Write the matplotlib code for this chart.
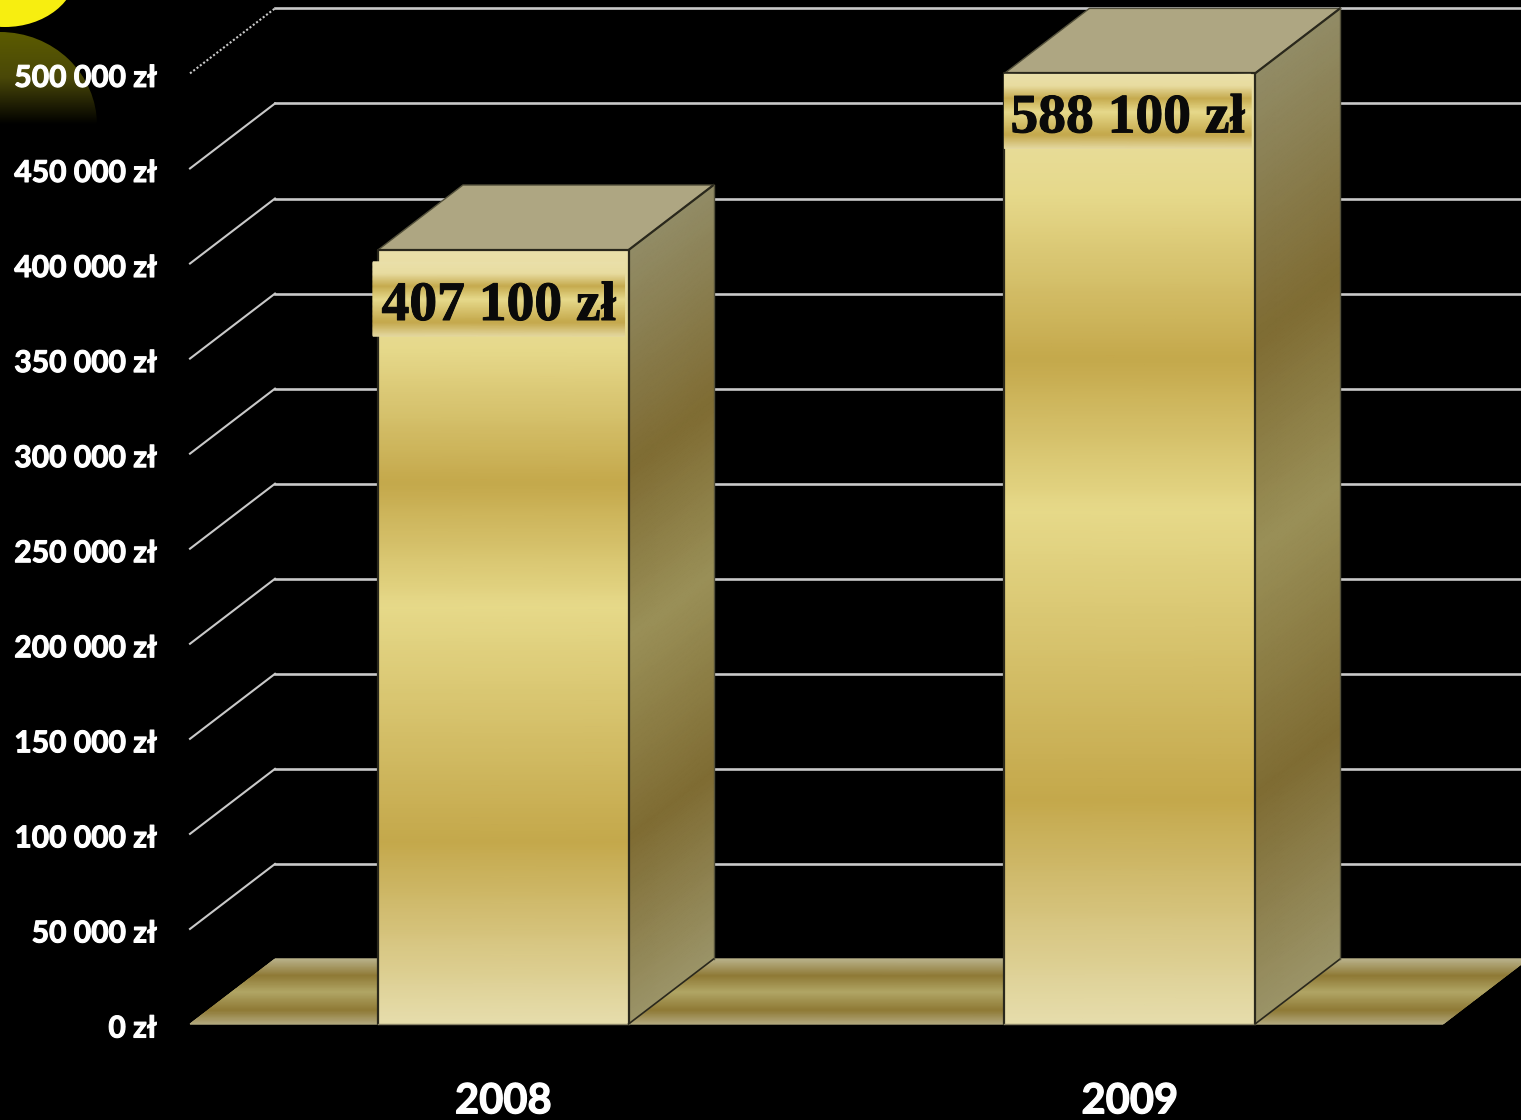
import numpy as np
import matplotlib
matplotlib.use("Agg")
import matplotlib.pyplot as plt
import matplotlib.patheffects as pe
from matplotlib.colors import LinearSegmentedColormap
from matplotlib.patches import Ellipse, Polygon
from matplotlib.transforms import ScaledTranslation

years = ["2008", "2009"]
values = [407100, 588100]
label_texts = ["407 100 zł", "588 100 zł"]
y_ticks = [0, 50000, 100000, 150000, 200000, 250000, 300000, 350000, 400000, 450000, 500000]

# layout, in pixels of the 1521x1120 picture
W, H = 1521, 1120
LEFT, RIGHT, BOTTOM, TOP = 190, 1443, 1024, 73.4
Y_MAX = 500000
BAR_WIDTH = 0.4
DEPTH_X = 85 / 626.5
DEPTH_Y = 65 / (BOTTOM - TOP) * Y_MAX
PX_Y = Y_MAX / (BOTTOM - TOP)
PX_X = 2 / (RIGHT - LEFT)
label_drop = [12, 1]
label_shift = [-5, 0]

front_cmap = LinearSegmentedColormap.from_list("front", [
    (0.0, "#e6ddac"), (0.235, "#c4a84b"), (0.54, "#e6d989"),
    (0.70, "#c4a84b"), (0.875, "#e6d98b"), (1.0, "#e9dfa9")])
side_cmap = LinearSegmentedColormap.from_list("side", [
    (0.0, "#9b9468"), (0.24, "#7f6c33"), (0.5, "#9a9058"),
    (0.72, "#7f6c33"), (1.0, "#928c66")])
floor_cmap = LinearSegmentedColormap.from_list("floor", [
    (0.0, "#b3aa80"), (0.22, "#8f7a36"), (0.5, "#b1a666"),
    (0.75, "#8f7a36"), (1.0, "#b8b088")])
label_cmap = LinearSegmentedColormap.from_list("label", [
    (0.0, "#e4d8a0"), (0.19, "#c4a84b"), (0.5, "#e7da8c"),
    (0.68, "#c6ab4f"), (0.85, "#e8dca0"), (1.0, "#e9dfa9")])


def mesh(ax, x, y, c, cmap, z):
    ax.pcolormesh(x, y, c, cmap=cmap, vmin=0, vmax=1, shading="gouraud",
                  zorder=z, clip_on=False, rasterized=True)


fig = plt.figure(figsize=(W / 100, H / 100), dpi=100, facecolor="black")

# background decoration top left
bg = fig.add_axes([0, 0, 1, 1], zorder=0)
bg.axis("off")
dome = Ellipse((0, 125), 194, 186, transform=bg.transData, fc="none", ec="none")
bg.add_patch(dome)
dome_cmap = LinearSegmentedColormap.from_list("dome", ["#5c5c00", "#4a4808", "#000000"])
img = bg.imshow(np.linspace(0, 1, 100).reshape(-1, 1), cmap=dome_cmap,
                extent=[0, 100, 125, 30], aspect="auto")
img.set_clip_path(dome)
bg.set_xlim(0, W)
bg.set_ylim(H, 0)
bg.add_patch(Ellipse((5, -30), 144, 114, fc="#f7ee10", ec="none"))

ax = fig.add_axes([LEFT / W, (H - BOTTOM) / H, (RIGHT - LEFT) / W, (BOTTOM - TOP) / H], zorder=1)
ax.patch.set_alpha(0)
for s in ax.spines.values():
    s.set_visible(False)

# gridlines with the slanted part on the side wall, the top slant is dotted
for v in y_ticks[1:]:
    ax.plot([DEPTH_X, 2 + DEPTH_X], [v + DEPTH_Y, v + DEPTH_Y], color="#c9c9c9",
            lw=1.9, zorder=1, clip_on=False)
    ax.plot([0, DEPTH_X], [v, v + DEPTH_Y], color="#c9c9c9", lw=1.5, zorder=1, clip_on=False,
            ls=(0, (1, 1)) if v == Y_MAX else "-")

# floor
vv = np.linspace(0, 1, 120)
fx = np.array([[0 + DEPTH_X * t, 2 + DEPTH_X * t] for t in vv])
fy = np.array([[DEPTH_Y * t, DEPTH_Y * t] for t in vv])
mesh(ax, fx, fy, np.column_stack([vv, vv]), floor_cmap, 2)

positions = [0.5, 1.5]
for i, (pos, val) in enumerate(zip(positions, values)):
    h = min(val, Y_MAX)  # axis stops at 500 000, taller bars are cut there
    x0 = pos - BAR_WIDTH / 2
    x1 = pos + BAR_WIDTH / 2
    z = 3 + i

    # right side
    sx = np.array([[x1, x1 + DEPTH_X]] * len(vv))
    sy = np.array([[t * h, t * h + DEPTH_Y] for t in vv])
    mesh(ax, sx, sy, np.column_stack([vv, vv]), side_cmap, z)

    # top
    ax.add_patch(Polygon([(x0, h), (x1, h), (x1 + DEPTH_X, h + DEPTH_Y), (x0 + DEPTH_X, h + DEPTH_Y)],
                         fc="#aea682", ec="#55523c", lw=1, zorder=z, clip_on=False))

    # front
    ffx = np.array([[x0, x1]] * len(vv))
    ffy = np.array([[t * h, t * h] for t in vv])
    mesh(ax, ffx, ffy, np.column_stack([vv, vv]), front_cmap, z + 0.1)

    ax.plot([x0, x0, x1, x1], [0, h, h, 0], color="#2a281c", lw=1.6, zorder=z + 0.2, clip_on=False)
    ax.plot([x0, x1], [0, 0], color="#8a8468", lw=1, zorder=z + 0.2, clip_on=False)
    ax.plot([x1, x1 + DEPTH_X], [h, h + DEPTH_Y], color="#2a281c", lw=1.6, zorder=z + 0.2, clip_on=False)
    ax.plot([x1, x1 + DEPTH_X], [0, DEPTH_Y], color="#2a281c", lw=1.2, zorder=z + 0.2, clip_on=False)
    ax.plot([x1 + DEPTH_X] * 2, [DEPTH_Y, h + DEPTH_Y], color="#55523c", lw=1, zorder=z + 0.2, clip_on=False)

    # value label on its own gradient strip
    ltop = h - label_drop[i] * PX_Y
    lbot = ltop - 74 * PX_Y
    lx0 = x0 + label_shift[i] * PX_X
    lx1 = x1 - 4 * PX_X
    lv = np.linspace(0, 1, 60)
    mesh(ax, np.array([[lx0, lx1]] * len(lv)), np.array([[lbot + t * (ltop - lbot)] * 2 for t in lv]),
         np.column_stack([lv, lv]), label_cmap, z + 0.3)
    ax.text((lx0 + lx1) / 2, (ltop + lbot) / 2 - 7 * PX_Y, label_texts[i], ha="center", va="center",
            fontsize=40, fontweight="bold", family="Liberation Serif", color="#0a0a0a", zorder=z + 0.4,
            path_effects=[pe.withStroke(linewidth=0.7, foreground="#0a0a0a")])

ax.set_xlim(0, 2)
ax.set_ylim(0, Y_MAX)
ax.set_xticks(positions)
ax.set_xticklabels(years, fontsize=30, fontweight="bold", family="Lato", color="white",
                   path_effects=[pe.withStroke(linewidth=0.9, foreground="white")])
ax.set_yticks(y_ticks)
ax.set_yticklabels([f"{v:,}".replace(",", " ") + " zł" for v in y_ticks],
                   fontsize=21.6, fontweight="bold", family="Lato", color="white",
                   path_effects=[pe.withStroke(linewidth=0.8, foreground="white")])
ax.tick_params(axis="x", length=0, pad=42)
ax.tick_params(axis="y", length=0, pad=24)
nudge = ScaledTranslation(0, -2 / 100, fig.dpi_scale_trans)
for lab in ax.get_yticklabels():
    lab.set_transform(lab.get_transform() + nudge)

fig.savefig("out.png", dpi=100, facecolor="black")
